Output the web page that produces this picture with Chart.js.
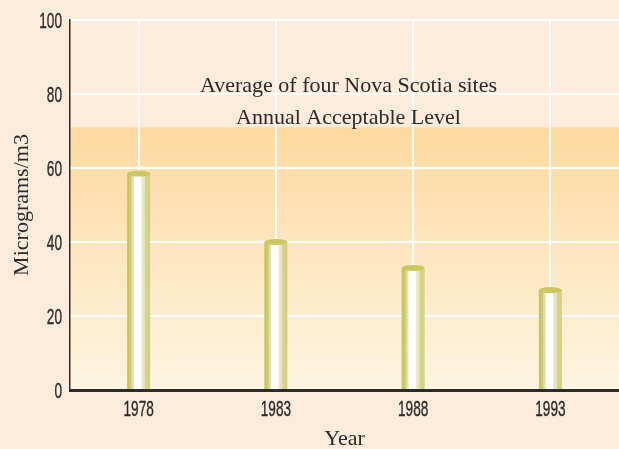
<!DOCTYPE html>
<html>
<head>
<meta charset="utf-8">
<script src="https://cdn.jsdelivr.net/npm/chart.js@4/dist/chart.umd.min.js"></script>
<style>
  html, body { margin: 0; padding: 0; background: #fdebdb; }
  #wrap { width: 619px; height: 449px; position: relative; }
</style>
</head>
<body>
<div id="wrap"><canvas id="c" width="619" height="449"></canvas></div>
<script>
// ---- data ----
const years = ['1978', '1983', '1988', '1993'];
const averageValues = [58.5, 40, 33, 27];
const acceptableLevel = 71;
const yTicks = [0, 20, 40, 60, 80, 100];
const annotationLines = ['Average of four Nova Scotia sites', 'Annual Acceptable Level'];
const annotationYValues = [82, 73.5];
const yTitle = 'Micrograms/m3';
const xTitle = 'Year';

const SERIF = '"Liberation Serif", "DejaVu Serif", serif';
const TICKFONT = '22px "Liberation Sans", Arial, sans-serif';
const TEXT = '#2a2a2a';

function drawNarrow(ctx, text, x, y, align) {
  ctx.save();
  ctx.translate(x, y);
  ctx.scale(0.62, 1);
  ctx.font = TICKFONT;
  ctx.fillStyle = TEXT;
  ctx.strokeStyle = TEXT;
  ctx.lineWidth = 0.35;
  ctx.textAlign = align;
  ctx.textBaseline = 'middle';
  ctx.fillText(text, 0, 0);
  ctx.strokeText(text, 0, 0);
  ctx.restore();
}

const backgroundPlugin = {
  id: 'bgBand',
  beforeDraw(chart) {
    const {ctx, chartArea, scales} = chart;
    ctx.save();
    ctx.fillStyle = '#fdebdb';
    ctx.fillRect(0, 0, chart.width, chart.height);
    const yTop = scales.y.getPixelForValue(acceptableLevel);
    const yBot = scales.y.getPixelForValue(0);
    const g = ctx.createLinearGradient(0, yTop, 0, yBot);
    g.addColorStop(0, '#fdd9a0');
    g.addColorStop(1, '#fdf5e2');
    ctx.fillStyle = g;
    ctx.fillRect(chartArea.left, yTop, chartArea.right - chartArea.left, yBot - yTop);
    ctx.restore();
  }
};

const cylinderPlugin = {
  id: 'cylinder',
  afterDatasetsDraw(chart) {
    const {ctx} = chart;
    const meta = chart.getDatasetMeta(0);
    ctx.save();
    meta.data.forEach((bar) => {
      const w = bar.width, x0 = bar.x - w / 2;
      const g = ctx.createLinearGradient(x0, 0, x0 + w, 0);
      g.addColorStop(0, '#c6c356');
      g.addColorStop(0.16, '#cfcc6e');
      g.addColorStop(0.2, '#dddba0');
      g.addColorStop(0.28, '#e6e5bb');
      g.addColorStop(0.32, '#ffffff');
      g.addColorStop(0.6, '#ffffff');
      g.addColorStop(0.64, '#ebeacb');
      g.addColorStop(0.76, '#e4e3b6');
      g.addColorStop(0.8, '#d6d48c');
      g.addColorStop(1, '#d2d07e');
      ctx.fillStyle = g;
      ctx.fillRect(x0, bar.y, w, bar.base - bar.y);
      ctx.beginPath();
      ctx.ellipse(bar.x, bar.y, w / 2, 3, 0, 0, Math.PI * 2);
      ctx.fillStyle = '#cbc85e';
      ctx.fill();
    });
    ctx.restore();
  },
  afterDraw(chart) {
    const {ctx, chartArea, scales} = chart;
    ctx.save();
    ctx.font = '22px ' + SERIF;
    ctx.fillStyle = TEXT;
    ctx.textAlign = 'center';
    ctx.textBaseline = 'middle';
    const cx = (chartArea.left + chartArea.right) / 2 + 4;
    annotationLines.forEach((t, i) => {
      ctx.fillText(t, cx, scales.y.getPixelForValue(annotationYValues[i]));
    });
    ctx.restore();
    // tick labels (condensed)
    yTicks.forEach((v) => {
      drawNarrow(ctx, String(v), scales.y.right - 8, scales.y.getPixelForValue(v) + 2, 'right');
    });
    years.forEach((lab, i) => {
      drawNarrow(ctx, lab, scales.x.getPixelForValue(i), scales.x.top + 20, 'center');
    });
  }
};

new Chart(document.getElementById('c'), {
  type: 'bar',
  data: {
    labels: years,
    datasets: [{
      data: averageValues,
      backgroundColor: 'rgba(0,0,0,0)',
      borderWidth: 0,
      barThickness: 23
    }]
  },
  options: {
    responsive: false,
    animation: false,
    devicePixelRatio: 1,
    layout: { padding: { top: 20, right: 0, left: 0, bottom: 0 } },
    plugins: { legend: { display: false }, tooltip: { enabled: false } },
    scales: {
      x: {
        grid: { color: '#ffffff', lineWidth: 2, offset: false, drawTicks: false },
        border: { display: true, color: '#2b2b2b', width: 3 },
        ticks: { display: false },
        title: { display: true, text: xTitle, color: TEXT, font: { family: SERIF, size: 22, lineHeight: 1 }, padding: { top: 0, bottom: -1 } },
        afterFit(scale) { scale.height = 59; }
      },
      y: {
        min: 0, max: 100,
        afterBuildTicks(scale) { scale.ticks = yTicks.map(v => ({ value: v })); },
        grid: { color: '#ffffff', lineWidth: 2, drawTicks: false },
        border: { display: true, color: '#2b2b2b', width: 1.5 },
        ticks: { display: false },
        title: { display: true, text: yTitle, color: TEXT, font: { family: SERIF, size: 22, lineHeight: 1 }, padding: { top: 11, bottom: 0 } },
        afterFit(scale) { scale.width = 70; }
      }
    }
  },
  plugins: [backgroundPlugin, cylinderPlugin]
});
</script>
</body>
</html>
